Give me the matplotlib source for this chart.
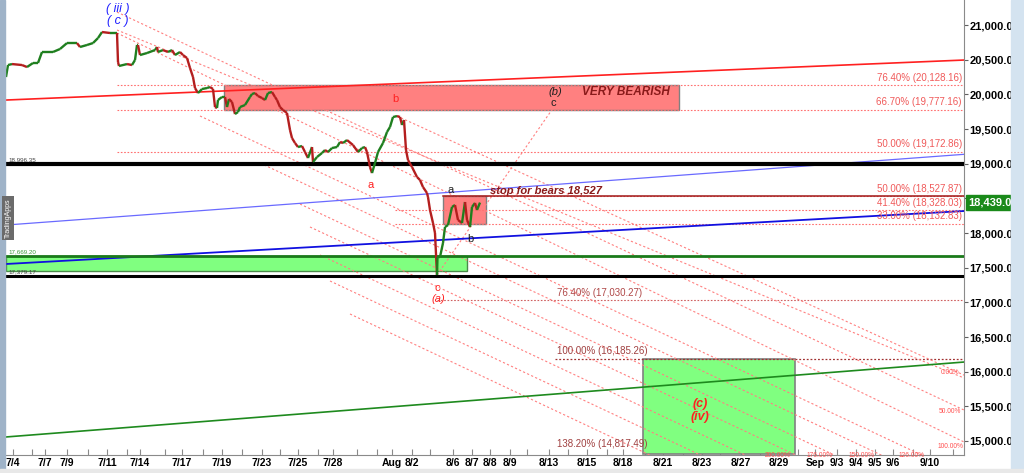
import matplotlib
matplotlib.use("Agg")
import matplotlib.pyplot as plt
from matplotlib.collections import LineCollection
from matplotlib.patches import Rectangle
import matplotlib.transforms as mtransforms

plt.rcParams['font.family'] = ['Liberation Sans', 'DejaVu Sans']

# ---- price path (bar position, close) ----
bar_x = [6, 8, 12, 22, 27, 33, 38, 42, 50, 53, 60, 67, 77, 80, 87, 93, 98, 102, 110, 117,
         118, 119, 127, 132, 135, 137, 138, 140, 147, 155, 157, 158, 163, 168, 172, 175, 180,
         183, 187, 190, 193, 195, 198, 202, 207, 210, 213, 215, 217, 218, 222, 225, 227, 229,
         232, 235, 238, 240, 245, 250, 252, 255, 258, 262, 265, 268, 272, 275, 277, 280, 283,
         287, 290, 292, 295, 298, 302, 305, 308, 312, 313, 317, 322, 325, 328, 332, 337, 340,
         343, 347, 353, 358, 362, 365, 367, 370, 372, 375, 378, 383, 387, 390, 393, 397, 400,
         402, 404, 406, 408, 412, 417, 420, 423, 427, 428, 430, 433, 435, 437, 437.5, 440, 443,
         445, 448, 452, 455, 458, 462, 465, 467, 470, 472, 475, 477, 480]
close = [20250, 20423, 20437, 20423, 20394, 20452, 20452, 20611, 20611, 20611, 20654, 20740,
         20740, 20683, 20712, 20740, 20812, 20899, 20885, 20885,
         20466, 20409, 20437, 20423, 20495, 20712, 20712, 20567, 20596, 20639, 20683, 20611,
         20639, 20611, 20639, 20567, 20611,
         20567, 20524, 20380, 20250, 20091, 20019, 20077, 20091, 20106, 20077, 19817, 19803,
         19918, 19962, 19962, 19817, 19933,
         19889, 19716, 19745, 19817, 19846, 19962, 20005, 20019, 19976, 19947, 19918, 20019,
         20034, 19962, 19918, 19817, 19774,
         19731, 19486, 19370, 19298, 19240, 19255, 19168, 19082, 19240, 19024, 19096, 19154,
         19197, 19168, 19226, 19240, 19312,
         19298, 19341, 19269, 19168, 19226, 19240, 19168, 18952, 18865, 19010, 19168, 19298,
         19457, 19529, 19673, 19687, 19673,
         19558, 19630, 19197, 19053, 18952, 18808, 18764, 18663, 18577, 18519, 18332, 18144,
         18000, 17394, 17654, 17654, 17856,
         18087, 18115, 18375, 18404, 18188, 18144, 18447, 18188, 18087, 18375, 18433, 18332,
         18439]

# ---- axis ticks ----
y_ticks = [15000, 15500, 16000, 16500, 17000, 17500, 18000, 18500, 19000, 19500, 20000,
           20500, 21000]
x_tick_pos = [13, 45, 67, 107, 140, 182, 222, 262, 298, 333, 392, 412, 453, 472, 490, 510,
              549, 587, 623, 663, 702, 741, 779, 815, 837, 856, 875, 893, 930]
x_tick_lab = ['7/4', '7/7', '7/9', '7/11', '7/14', '7/17', '7/19', '7/23', '7/25', '7/28',
              'Aug', '8/2', '8/6', '8/7', '8/8', '8/9', '8/13', '8/15', '8/18', '8/21', '8/23',
              '8/27', '8/29', 'Sep', '9/3', '9/4', '9/5', '9/6', '9/10']
x_minor = [32, 88, 127, 165, 203, 242, 280, 318, 357, 377, 430, 527, 568, 607, 645, 683, 720,
           760, 798, 913, 953]

# ---- levels ----
fib_right = [20128.16, 19777.16, 19172.86, 18527.87, 18328.03, 18132.83]
fib_right_lab = ['76.40% (20,128.16)', '66.70% (19,777.16)', '50.00% (19,172.86)',
                 '50.00% (18,527.87)', '41.40% (18,328.03)', '33.00% (18,132.83)']
fib_right_start = [117, 117, 117, 443, 395, 395]
fib_low = [17030.27, 16185.26, 14817.49]
fib_low_lab = ['76.40% (17,030.27)', '100.00% (16,185.26)', '138.20% (14,817.49)']
last_price = 18439.00

# channel lines (x0, p0, x1, p1) and their percentage labels
channel_lines = [(117, 20928, 964, 15909), (117, 21187, 964, 15447), (117, 20885, 964, 14986),
                 (200, 19688, 964, 14510), (260, 19010, 964, 14236), (300, 18418, 964, 13918),
                 (310, 18087, 964, 13659), (320, 17683, 964, 13313), (330, 17308, 964, 13010),
                 (350, 16832, 964, 12664), (397, 19687, 964, 15950),
                 (437, 17394, 553, 19800)]
fan_lab = ['0.00%', '50.00%', '100.00%', '126.00%', '150.00%', '176.00%', '200.00%']
fan_lab_x = [950, 950, 950, 912, 862, 820, 778]
fan_lab_p = [15990, 15430, 14920, 14790, 14790, 14790, 14790]

XMIN, XMAX = 6, 964
YMIN, YMAX = 14798, 21361

fig = plt.figure(figsize=(10.24, 4.73), dpi=100)
fig.patch.set_facecolor('white')
ax = fig.add_axes([6 / 1024, 18 / 473, 958 / 1024, 455 / 473])
ax.set_xlim(XMIN, XMAX)
ax.set_ylim(YMIN, YMAX)

# window borders
fig.patches.append(Rectangle((0, 0), 5 / 1024, 1, transform=fig.transFigure,
                             color='#9fb3c8', zorder=0))
fig.patches.append(Rectangle((1011 / 1024, 0), 13 / 1024, 1, transform=fig.transFigure,
                             color='#d4e3f0', zorder=0))
fig.patches.append(Rectangle((0, 0), 1, 4 / 473, transform=fig.transFigure,
                             color='#e8e8e8', zorder=0))

# boxes
ax.add_patch(Rectangle((224, 19777.16), 455, 20128.16 - 19777.16, facecolor='#ff8080',
                       edgecolor='#808080', lw=1, zorder=2))
ax.add_patch(Rectangle((443, 18132.83), 43, 18527.87 - 18132.83, facecolor='#ff8080',
                       edgecolor='#808080', lw=1, zorder=2))
ax.add_patch(Rectangle((6, 17452), 461, 17669.20 - 17452, facecolor='#80ff80',
                       edgecolor='#4a8a4a', lw=1, zorder=2))
ax.add_patch(Rectangle((643, 14817.49), 152, 16185.26 - 14817.49, facecolor='#80ff80',
                       edgecolor='#808080', lw=1.2, zorder=2))

# fib dotted levels
for lvl, x0 in zip(fib_right, fib_right_start):
    ax.plot([x0, XMAX], [lvl, lvl], color='#ff7070', ls=(0, (1.5, 1.5)), lw=0.8, zorder=3)
ax.plot([437, XMAX], [fib_low[0], fib_low[0]], color='#d06060', ls=(0, (1.5, 1.5)), lw=0.8, zorder=3)
ax.plot([555, XMAX], [fib_low[1], fib_low[1]], color='#a03030', ls=(0, (1.5, 1.5)), lw=0.9, zorder=3)

# channel lines
for x0, p0, x1, p1 in channel_lines:
    ax.plot([x0, x1], [p0, p1], color='#ff8080', ls=(0, (2, 2)), lw=0.8, zorder=3)

# trend lines
ax.plot([XMIN, XMAX], [19918, 20495], color='#ff2020', lw=1.2, zorder=3)
ax.plot([XMIN, XMAX], [18115, 19135], color='#6a6aff', lw=0.9, zorder=3)
ax.plot([XMIN, XMAX], [17553, 18317], color='#1010e0', lw=1.3, zorder=3)
ax.plot([XMIN, XMAX], [15058, 16139], color='#1e8a1e', lw=1.2, zorder=3)

# horizontal support / resistance
ax.axhline(18996.35, color='black', lw=3, zorder=4)
ax.axhline(17379.17, color='black', lw=2.2, zorder=4)
ax.axhline(17669.20, color='#1a7a1a', lw=2, zorder=4)
ax.plot([443, XMAX], [18527.87, 18527.87], color='#a01818', lw=1.1, zorder=4)

# price path, coloured by direction
segs, cols = [], []
for i in range(1, len(bar_x)):
    segs.append([(bar_x[i - 1], close[i - 1]), (bar_x[i], close[i])])
    cols.append('#1f7f1f' if close[i] >= close[i - 1] else '#b41e1e')
ax.add_collection(LineCollection(segs, colors=cols, linewidths=1.7, zorder=5))

# fib labels
for lvl, lab in zip(fib_right, fib_right_lab):
    ax.text(962, lvl + 35, lab, color='#f05a5a', fontsize=7, ha='right', va='bottom', zorder=6)
ax.text(557, fib_low[0] + 35, fib_low_lab[0], color='#b04848', fontsize=7, va='bottom')
ax.text(557, fib_low[1] + 35, fib_low_lab[1], color='#a04040', fontsize=7, va='bottom')
ax.text(557, fib_low[2] + 60, fib_low_lab[2], color='#a04040', fontsize=7, va='bottom')
for x, p, lab in zip(fan_lab_x, fan_lab_p, fan_lab):
    ax.text(x, p, lab, color='#ff5050', fontsize=4.8, ha='center', va='center')

# small level labels on the left
ax.text(8, 18996.35 + 25, '18,996.35', fontsize=4.5, color='#404040', va='bottom')
ax.text(8, 17669.20 + 25, '17,669.20', fontsize=4.5, color='#3a9a3a', va='bottom')
ax.text(8, 17379.17 + 25, '17,379.17', fontsize=4.5, color='#404040', va='bottom')

# wave labels
ax.text(118, 21230, '( iii )', color='#2020ff', fontsize=9, style='italic', ha='center', va='center')
ax.text(118, 21060, '( c )', color='#2020ff', fontsize=9, style='italic', ha='center', va='center')
ax.text(395, 19930, 'b', color='#ff2020', fontsize=8, ha='center', va='center')
ax.text(371, 18690, 'a', color='#ff2020', fontsize=8, ha='center', va='center')
ax.text(437, 17210, 'c', color='#ff2020', fontsize=8, ha='center', va='center')
ax.text(438, 17050, '(a)', color='#ff2020', fontsize=8, style='italic', ha='center', va='center')
ax.text(451, 18620, 'a', color='#202020', fontsize=8, ha='center', va='center')
ax.text(470, 17920, 'b', color='#202020', fontsize=8, ha='center', va='center')
ax.text(555, 20030, '(b)', color='#202020', fontsize=8, style='italic', ha='center', va='center')
ax.text(553, 19870, 'c', color='#202020', fontsize=8, ha='center', va='center')
ax.text(582, 20030, 'VERY BEARISH', color='#8a1a1a', fontsize=8.5, style='italic',
        fontweight='bold', va='center')
ax.text(490, 18610, 'stop for bears 18,527', color='#8a1a1a', fontsize=8, style='italic',
        fontweight='bold', va='center')
ax.text(700, 15490, '(c)', color='#ff2020', fontsize=9, style='italic', fontweight='bold', ha='center')
ax.text(700, 15300, '(iv)', color='#ff2020', fontsize=9, style='italic', fontweight='bold', ha='center')

# TradingApps tab on the left edge
fig.text(8 / 1024, 1 - 218 / 473, 'TradingApps', rotation=90, fontsize=5, color='white',
         ha='center', va='center',
         bbox=dict(boxstyle='square,pad=0.35', facecolor='#6b6b6b', edgecolor='none'))

# axes styling
for side in ['left', 'top']:
    ax.spines[side].set_visible(False)
ax.spines['right'].set_color('#8a8a8a')
ax.spines['bottom'].set_color('#8a8a8a')
ax.yaxis.tick_right()
ax.set_yticks(y_ticks)
# the 18,500 label sits under the last-price tag
ax.set_yticklabels(['' if v == 18500 else f'{v:,.2f}' for v in y_ticks],
                   fontsize=8, fontweight='bold')
ax.tick_params(axis='y', length=3, width=0.8, color='#606060', pad=1)
ax.set_xticks(x_tick_pos)
ax.set_xticklabels(x_tick_lab, fontsize=7.5, fontweight='bold')
ax.set_xticks(x_minor, minor=True)
ax.tick_params(axis='x', which='both', direction='in', length=4, width=0.8, color='#8a8a8a', pad=2)

# current price tag
trans = mtransforms.blended_transform_factory(ax.transAxes, ax.transData)
ax.text(1.004, last_price, f'{last_price:,.2f}', transform=trans, fontsize=8, fontweight='bold',
        color='white', va='center', ha='left', zorder=10, clip_on=False,
        bbox=dict(boxstyle='square,pad=0.2', facecolor='#1a8a1a', edgecolor='#1a8a1a'))

fig.savefig('out.png', dpi=100)
